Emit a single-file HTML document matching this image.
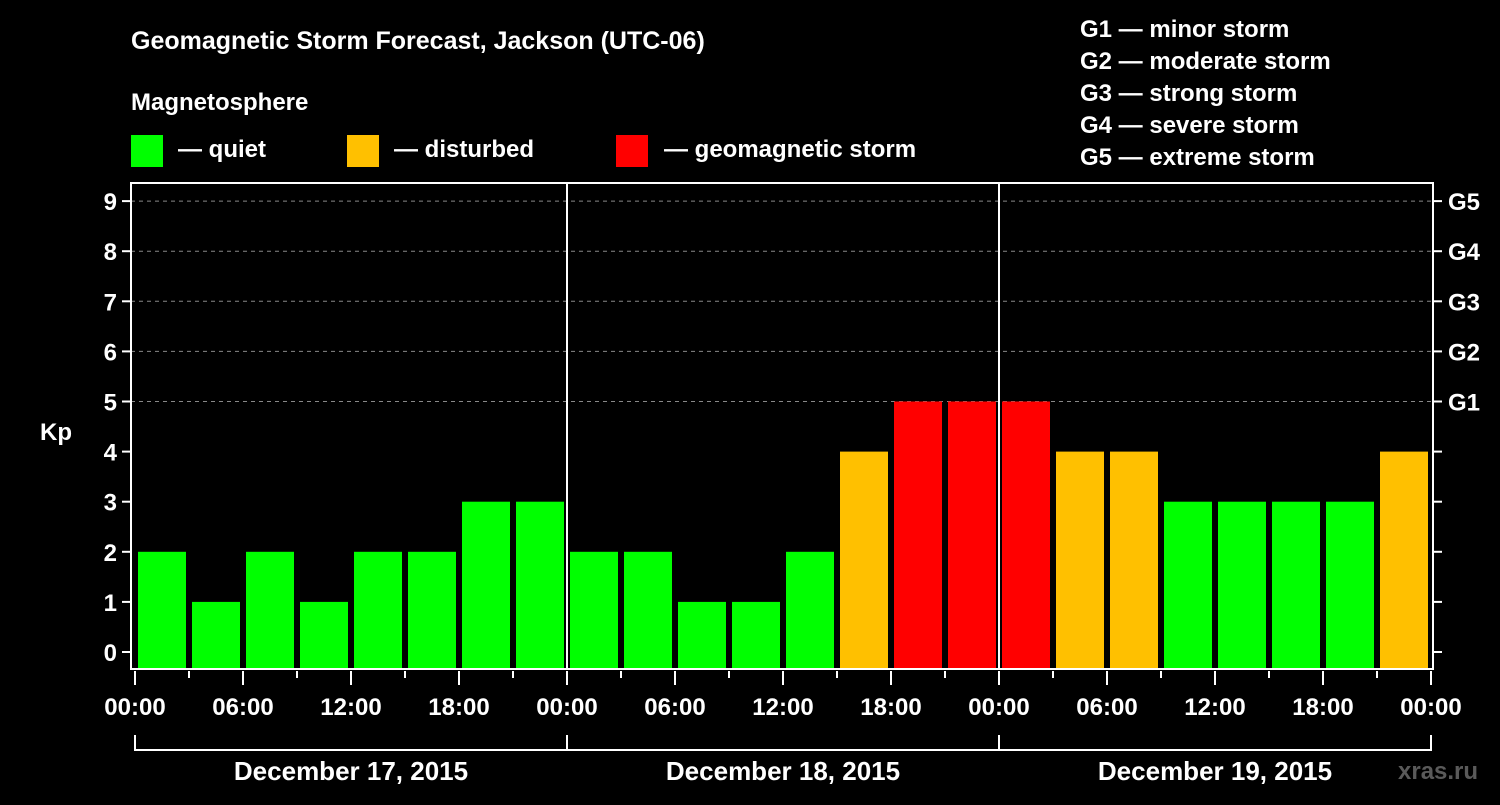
<!DOCTYPE html>
<html><head><meta charset="utf-8"><style>
body{margin:0;background:#000;width:1500px;height:800px;overflow:hidden}
svg text{font-family:"Liberation Sans",sans-serif;font-weight:bold;fill:#fff}
</style></head><body>
<svg id="c" width="1500" height="800">
<text x="131" y="49" font-size="25">Geomagnetic Storm Forecast, Jackson (UTC-06)</text>
<text x="131" y="110" font-size="24">Magnetosphere</text>
<rect x="131" y="135" width="32" height="32" fill="#00ff00"/>
<text x="178" y="157" font-size="24">— quiet</text>
<rect x="347" y="135" width="32" height="32" fill="#ffc000"/>
<text x="394" y="157" font-size="24">— disturbed</text>
<rect x="616" y="135" width="32" height="32" fill="#ff0000"/>
<text x="664" y="157" font-size="24">— geomagnetic storm</text>
<g font-size="24">
<text x="1080" y="37">G1 — minor storm</text>
<text x="1080" y="69">G2 — moderate storm</text>
<text x="1080" y="101">G3 — strong storm</text>
<text x="1080" y="133">G4 — severe storm</text>
<text x="1080" y="165">G5 — extreme storm</text>
</g>
<text x="40" y="440" font-size="24">Kp</text>
<text x="1398" y="779" font-size="24" fill="#555" style="fill:#5a5a5a">xras.ru</text>
<g id="g"></g>
</svg>
<script>
const kpValues=[2,1,2,1,2,2,3,3, 2,2,1,1,2,4,5,5, 5,4,4,3,3,3,3,4];
const dayLabels=["December 17, 2015","December 18, 2015","December 19, 2015"];
const hourLabels=["00:00","06:00","12:00","18:00"];
const yTicks=[0,1,2,3,4,5,6,7,8,9];
const gLabels=[[5,"G1"],[6,"G2"],[7,"G3"],[8,"G4"],[9,"G5"]];
const NS="http://www.w3.org/2000/svg";
const g=document.getElementById('g');
const X0=135,SLOT=54,L=131,R=1433,T=183,B=669;
const y=v=>652-v*50.1;
const x=i=>X0+i*SLOT;
function mk(t,a){const e=document.createElementNS(NS,t);for(const k in a)e.setAttribute(k,a[k]);g.appendChild(e);return e;}
yTicks.forEach(v=>{
 if(v>=5){const l=mk('line',{x1:L,x2:R,y1:y(v),y2:y(v),stroke:'#888','stroke-dasharray':'4,4'});
 
 }
 const t=mk('line',{x1:L-9,x2:L,y1:y(v),y2:y(v),stroke:'#fff','stroke-width':2});
 
 
 const t2=mk('line',{x1:R,x2:R+9,y1:y(v),y2:y(v),stroke:'#fff','stroke-width':2});
 
 
 const tx=mk('text',{x:L-14,y:y(v)+9,'font-size':24,'text-anchor':'end'});tx.textContent=v;
 
 
});
gLabels.forEach(([v,s])=>{const tx=mk('text',{x:1448,y:y(v)+9,'font-size':24});tx.textContent=s;
 
 });
kpValues.forEach((v,i)=>{
 const c=v>=5?'#ff0000':v==4?'#ffc000':'#00ff00';
 const r=mk('rect',{x:x(i)+3,y:y(v),width:48,height:B-1-y(v),fill:c});
 
 
});
const ax=mk('rect',{x:L,y:T,width:R-L,height:B-T,fill:'none',stroke:'#fff','stroke-width':2});


[1,2].forEach(d=>{const l=mk('line',{x1:x(d*8),x2:x(d*8),y1:T,y2:B,stroke:'#fff','stroke-width':2});
 
 });
for(let i=0;i<=24;i++){
 const major=i%2==0;
 const t=mk('line',{x1:x(i),x2:x(i),y1:B+2,y2:B+(major?16:9),stroke:'#fff','stroke-width':2});
 
 
 if(major){const tx=mk('text',{x:x(i),y:715,'font-size':24,'text-anchor':'middle'});tx.textContent=hourLabels[(i/2)%4];
 
 }
}
dayLabels.forEach((s,d)=>{
 const x1=x(d*8),x2=x(d*8+8);
 const p=mk('path',{d:`M${x1} 735V750H${x2}V735`,stroke:'#fff','stroke-width':2,fill:'none'});
 
 
 const tx=mk('text',{x:(x1+x2)/2,y:780,'font-size':26,'text-anchor':'middle'});tx.textContent=s;
 
 
});
</script>
</body></html>
